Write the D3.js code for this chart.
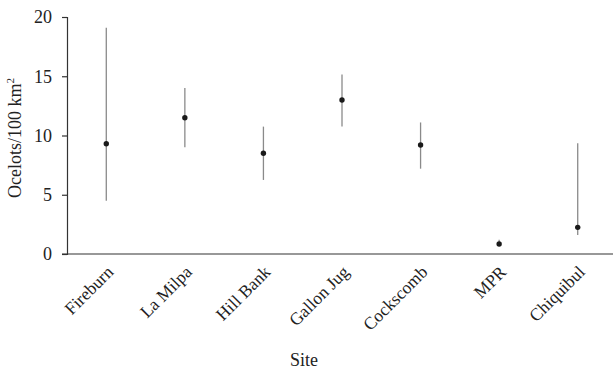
<!DOCTYPE html>
<html>
<head>
<meta charset="utf-8">
<style>
  body { margin: 0; background: #fff; }
  svg { display: block; font-family: "Liberation Serif", "Times New Roman", serif; }
</style>
</head>
<body>
<svg width="613" height="369"></svg>
<script src="https://d3js.org/d3.v7.min.js"></script>
<script>
var sites = ["Fireburn", "La Milpa", "Hill Bank", "Gallon Jug", "Cockscomb", "MPR", "Chiquibul"];
var density = [9.3, 11.5, 8.5, 13.0, 9.2, 0.85, 2.25];
var lower = [4.5, 9.0, 6.25, 10.75, 7.2, 0.7, 1.6];
var upper = [19.1, 14.0, 10.75, 15.15, 11.1, 1.2, 9.35];
var yTicks = [0, 5, 10, 15, 20];

var svg = d3.select("svg"),
    margin = {top: 17, right: 0, bottom: 115, left: 67},
    width = 617 - margin.left,
    height = 254 - margin.top,
    g = svg.append("g").attr("transform", "translate(" + margin.left + "," + margin.top + ")");

var x = d3.scaleBand().domain(sites).range([0, width]);
var y = d3.scaleLinear().domain([0, 20]).range([height, 0]);

// y axis
var yaxis = g.append("g")
    .call(d3.axisLeft(y).tickValues(yTicks).tickSize(5).tickPadding(10))
    .attr("font-family", null).attr("font-size", 18);
yaxis.selectAll("text").attr("fill", "#222");
yaxis.selectAll("line, path").attr("stroke", "#333").attr("stroke-width", 1.2);

// x axis
var xaxis = g.append("g")
    .attr("transform", "translate(0," + height + ")")
    .call(d3.axisBottom(x).tickSize(0).tickSizeOuter(0))
    .attr("font-family", null).attr("font-size", 17.5);
xaxis.select("path").attr("stroke", "#333").attr("stroke-width", 1.2).attr("d", "M-5,0H" + width);
xaxis.selectAll("text")
    .attr("fill", "#222")
    .attr("text-anchor", "end")
    .attr("dy", "0")
    .attr("transform", "translate(6,17) rotate(-45)");

// error bars
var rows = sites.map(function(s, i) { return {site: s, v: density[i], lo: lower[i], hi: upper[i]}; });

g.selectAll(".err").data(rows).enter().append("line")
    .attr("class", "err")
    .attr("x1", function(d) { return x(d.site) + x.bandwidth() / 2; })
    .attr("x2", function(d) { return x(d.site) + x.bandwidth() / 2; })
    .attr("y1", function(d) { return y(d.lo); })
    .attr("y2", function(d) { return y(d.hi); })
    .attr("stroke", "#8a8a8a")
    .attr("stroke-width", 1.3);

g.selectAll(".pt").data(rows).enter().append("circle")
    .attr("class", "pt")
    .attr("cx", function(d) { return x(d.site) + x.bandwidth() / 2; })
    .attr("cy", function(d) { return y(d.v); })
    .attr("r", 2.7)
    .attr("fill", "#1a1a1a");

// labels
svg.append("text")
    .attr("transform", "translate(21,138) rotate(-90)")
    .attr("text-anchor", "middle")
    .style("font-size", "18px")
    .attr("fill", "#222")
    .html("Ocelots/100 km<tspan dy='-7' font-size='11px'>2</tspan>");

svg.append("text")
    .attr("x", 304)
    .attr("y", 366)
    .attr("text-anchor", "middle")
    .style("font-size", "18px")
    .attr("fill", "#222")
    .text("Site");
</script>
</body>
</html>
